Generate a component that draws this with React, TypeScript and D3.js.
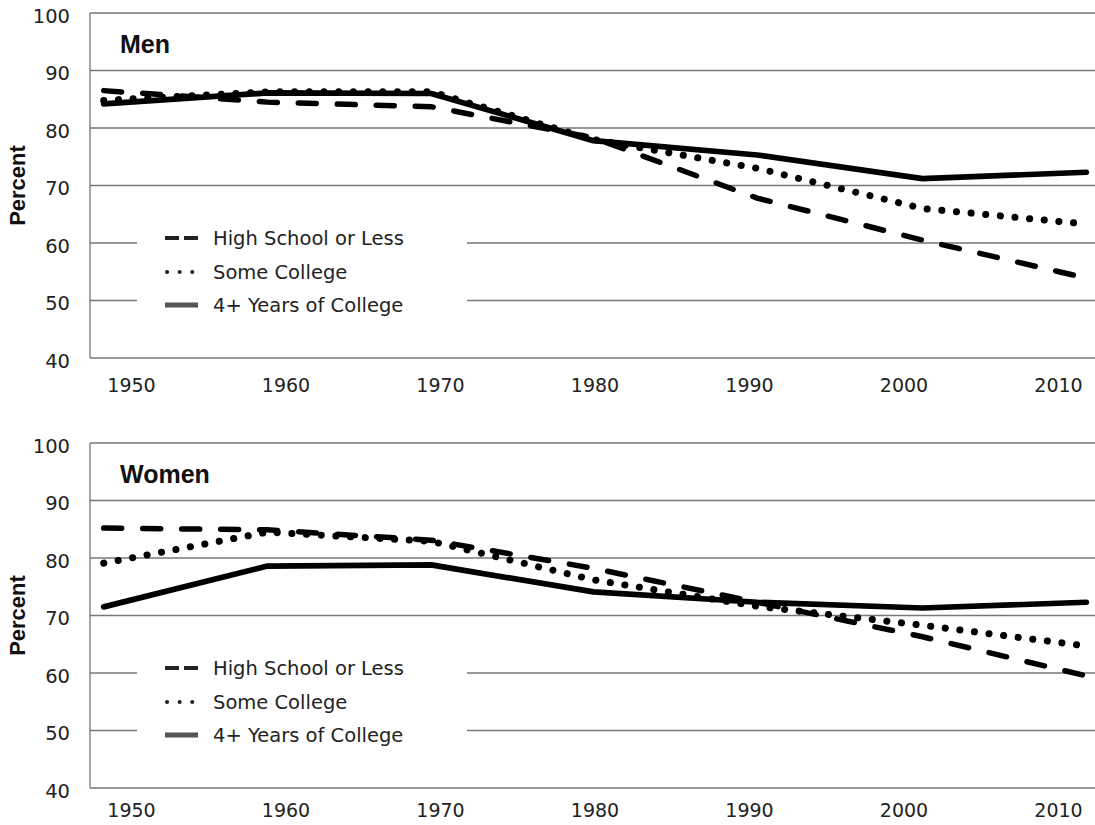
import React from 'react';
import * as d3 from 'd3';

// data points sit between the decade ticks
const years = [1948.2, 1958.8, 1969.4, 1979.9, 1990.5, 2001.2, 2011.8];

const menHighSchool = [86.5, 84.5, 83.7, 78.3, 67.8, 60.5, 53.9];
const menSomeCollege = [84.8, 86.3, 86.3, 78.0, 73.0, 66.0, 63.3];
const menFourYears = [84.2, 86.1, 86.0, 77.8, 75.3, 71.2, 72.3];

const womenHighSchool = [85.2, 84.9, 83.1, 78.2, 72.3, 66.3, 59.5];
const womenSomeCollege = [79.1, 84.5, 82.9, 76.2, 71.6, 68.3, 64.7];
const womenFourYears = [71.5, 78.6, 78.8, 74.1, 72.3, 71.3, 72.3];

const yTicks = [40, 50, 60, 70, 80, 90, 100];
const xTicks = [1950, 1960, 1970, 1980, 1990, 2000, 2010];
const seriesNames = ['High School or Less', 'Some College', '4+ Years of College'];

const W = 1095, H = 825;
const left = 90, right = 1095;
const x = d3.scaleLinear().domain([1950, 2010]).range([131.5, 1058.5]);

const tickFont = '"DejaVu Sans", sans-serif';
const boldFont = '"Liberation Sans", Arial, sans-serif';

const styles = [
  { dash: '18 21', width: 5.5 },
  { dash: '0.1 14.6', width: 7 },
  { dash: null, width: 5.7 },
];

function Panel({ title, top, bottom, labelGap, series }: { title: string; top: number; bottom: number; labelGap: number; series: number[][] }) {
  const y = d3.scaleLinear().domain([40, 100]).range([bottom, top]);
  const line = d3.line<number>().x((d, i) => x(years[i])).y(d => y(d));
  const lx = 165, lx2 = 198;
  const rowY = [top + 225, top + 259, top + 292];

  return (
    <g>
      {yTicks.map(t => (
        <g key={t}>
          <line x1={left} x2={right} y1={y(t)} y2={y(t)} stroke={t === 40 ? '#999' : '#777'} strokeWidth={t === 40 ? 2 : 1.3} />
          <text x={70} y={y(t) + 3} dy="0.35em" textAnchor="end" fontFamily={tickFont} fontSize={19.5} fill="#222">{t}</text>
        </g>
      ))}
      <line x1={left} x2={left} y1={top} y2={bottom} stroke="#777" strokeWidth={1.3} />
      {xTicks.map(t => (
        <text key={t} x={x(t)} y={bottom + labelGap} dy="0.35em" textAnchor="middle" fontFamily={tickFont} fontSize={19} fill="#222">{t}</text>
      ))}
      <text transform={`translate(17,${(top + bottom) / 2}) rotate(-90)`} dy="0.35em" textAnchor="middle" fontFamily={boldFont} fontWeight="bold" fontSize={22} fill="#111">Percent</text>
      <text x={120} y={top + 40} fontFamily={boldFont} fontWeight="bold" fontSize={25} fill="#111">{title}</text>

      {/* legend */}
      <rect x={137} y={top + 205} width={330} height={102} fill="#fff" />
      <line x1={lx} x2={lx2} y1={rowY[0]} y2={rowY[0]} stroke="#222" strokeWidth={4} strokeDasharray="14 5" />
      <line x1={lx + 2} x2={lx2} y1={rowY[1]} y2={rowY[1]} stroke="#222" strokeWidth={4} strokeDasharray="0.1 12.5" strokeLinecap="round" />
      <line x1={lx} x2={lx2} y1={rowY[2]} y2={rowY[2]} stroke="#555" strokeWidth={5} />
      {seriesNames.map((n, i) => (
        <text key={n} x={213} y={rowY[i]} dy="0.35em" fontFamily={tickFont} fontSize={19.5} fill="#222">{n}</text>
      ))}

      {series.map((s, i) => (
        <path key={i} d={line(s) || ''} fill="none" stroke="#000" strokeWidth={styles[i].width}
          strokeDasharray={styles[i].dash || undefined} strokeLinecap="round" strokeLinejoin="round" />
      ))}
    </g>
  );
}

export default function App() {
  return (
    <svg width={W} height={H} style={{ position: 'absolute', left: 0, top: 0, background: '#fff' }}>
      <Panel title="Men" top={13} bottom={358} labelGap={27} series={[menHighSchool, menSomeCollege, menFourYears]} />
      <Panel title="Women" top={443} bottom={788} labelGap={22} series={[womenHighSchool, womenSomeCollege, womenFourYears]} />
    </svg>
  );
}
